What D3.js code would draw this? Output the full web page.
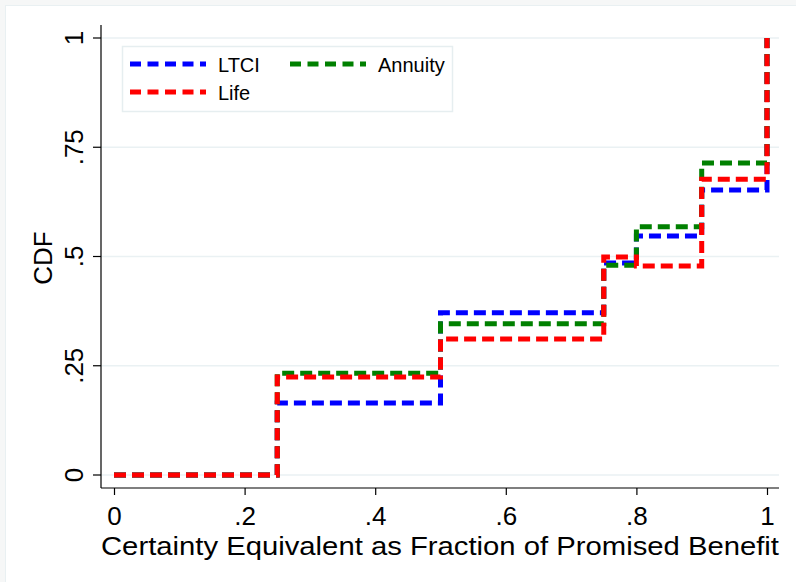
<!DOCTYPE html>
<html>
<head>
<meta charset="utf-8">
<script src="https://cdn.jsdelivr.net/npm/d3@7"></script>
<style>
  body { margin: 0; background: #f6f7f7; }
  svg text { font-family: 'Liberation Sans', Arial, sans-serif; fill: #000; }
</style>
</head>
<body>
<div id="chart"></div>
<script>
// step points of each CDF
let xSteps = [0, 0.25, 0.5, 0.75, 0.8, 0.9, 1];
let ltci = [0, 0.165, 0.371, 0.485, 0.547, 0.652, 1];
let annuity = [0, 0.233, 0.346, 0.48, 0.568, 0.714, 1];
let life = [0, 0.224, 0.311, 0.499, 0.478, 0.677, 1];

let seriesNames = ['LTCI', 'Annuity', 'Life'];
let seriesColors = ['#0000ff', '#008000', '#ff0000'];
let seriesValues = [ltci, annuity, life];

let xTicks = [0, 0.2, 0.4, 0.6, 0.8, 1];
let xTickLabels = ['0', '.2', '.4', '.6', '.8', '1'];
let yTicks = [0, 0.25, 0.5, 0.75, 1];
let yTickLabels = ['0', '.25', '.5', '.75', '1'];

let width = 796;
let height = 582;

let svg = d3
    .select('#chart')
    .append('svg')
    .attr('width', width)
    .attr('height', height);

// outer graph region
svg.append('rect')
    .attr('x', 0).attr('y', 0)
    .attr('width', width).attr('height', height)
    .attr('fill', '#f6f7f7');
svg.append('rect')
    .attr('x', 5.5).attr('y', 5.5)
    .attr('width', width).attr('height', height)
    .attr('fill', '#fff')
    .attr('stroke', '#e9f0f2');

let plotLeft = 101;
let plotRight = 779;
let plotTop = 25;
let plotBottom = 488;

let xScale = d3.scaleLinear().domain([0, 1]).range([114, 767]);
let yScale = d3.scaleLinear().domain([0, 1]).range([475, 38]);

// gridlines
svg.append('g')
    .selectAll('line')
    .data(yTicks)
    .enter()
    .append('line')
    .attr('x1', plotLeft)
    .attr('x2', plotRight)
    .attr('y1', d => yScale(d))
    .attr('y2', d => yScale(d))
    .attr('stroke', '#eaf1f3')
    .attr('stroke-width', 1.5);

// axes
let xAxis = d3.axisBottom(xScale)
    .tickValues(xTicks)
    .tickFormat((d, i) => xTickLabels[i])
    .tickSize(7)
    .tickSizeOuter(0)
    .tickPadding(12);
let gx = svg.append('g')
    .attr('class', 'xAxis')
    .attr('transform', `translate(0,${plotBottom})`)
    .call(xAxis);
gx.select('.domain').remove();
gx.selectAll('text').attr('font-size', 26).attr('dy', '0.71em');
gx.append('line')
    .attr('x1', plotLeft).attr('x2', plotRight)
    .attr('y1', 0).attr('y2', 0)
    .attr('stroke', '#000').attr('stroke-width', 1.2);

let yAxis = d3.axisLeft(yScale)
    .tickValues(yTicks)
    .tickFormat((d, i) => yTickLabels[i])
    .tickSize(8)
    .tickSizeOuter(0);
let gy = svg.append('g')
    .attr('class', 'yAxis')
    .attr('transform', `translate(${plotLeft},0)`)
    .call(yAxis);
gy.select('.domain').remove();
gy.selectAll('text')
    .attr('font-size', 26)
    .attr('x', null)
    .attr('dy', null)
    .attr('text-anchor', 'middle')
    .attr('transform', d => `translate(-18,${yScale(d)})rotate(-90)`)
    .attr('y', 0);
gy.selectAll('.tick').attr('transform', null);
gy.selectAll('.tick line')
    .attr('y1', d => yScale(d)).attr('y2', d => yScale(d));
gy.append('line')
    .attr('x1', 0).attr('x2', 0)
    .attr('y1', plotTop).attr('y2', plotBottom)
    .attr('stroke', '#000').attr('stroke-width', 1.2);
svg.selectAll('.tick line').attr('stroke', '#000').attr('stroke-width', 1.2);

// axis titles
svg.append('text')
    .text('Certainty Equivalent as Fraction of Promised Benefit')
    .attr('x', 101)
    .attr('y', 555)
    .attr('font-size', 26)
    .attr('textLength', 678)
    .attr('lengthAdjust', 'spacingAndGlyphs');

svg.append('text')
    .text('CDF')
    .attr('text-anchor', 'middle')
    .attr('font-size', 26)
    .attr('transform', `translate(52,258)rotate(-90)`);

// step lines
let line = d3.line()
    .x(d => xScale(d[0]))
    .y(d => yScale(d[1]))
    .curve(d3.curveStepAfter);

seriesValues.forEach((vals, i) => {
    svg.append('path')
        .datum(xSteps.map((x, j) => [x, vals[j]]))
        .attr('d', line)
        .attr('fill', 'none')
        .attr('stroke', seriesColors[i])
        .attr('stroke-width', 5)
        .attr('stroke-dasharray', '12,6');
});

// legend
let legend = svg.append('g').attr('class', 'legend');
legend.append('rect')
    .attr('x', 122.5).attr('y', 46.5)
    .attr('width', 330).attr('height', 65)
    .attr('fill', '#fff')
    .attr('stroke', '#e6eef0')
    .attr('stroke-width', 1.5);

let legendPos = [[130, 64], [290, 64], [130, 92]];
seriesNames.forEach((name, i) => {
    let [lx, ly] = legendPos[i];
    legend.append('line')
        .attr('x1', lx).attr('x2', lx + 76)
        .attr('y1', ly).attr('y2', ly)
        .attr('stroke', seriesColors[i])
        .attr('stroke-width', 5)
        .attr('stroke-dasharray', '11,6.5');
    legend.append('text')
        .text(name)
        .attr('x', lx + 88)
        .attr('y', ly + 8)
        .attr('font-size', 20);
});
</script>
</body>
</html>
